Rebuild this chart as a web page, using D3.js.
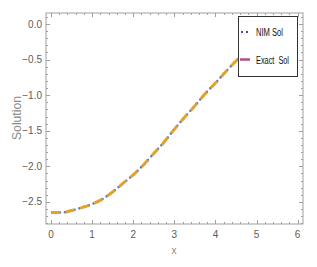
<!DOCTYPE html>
<html>
<head>
<meta charset="utf-8">
<script src="https://cdn.jsdelivr.net/npm/d3@7"></script>
<style>
  body { margin: 0; background: #fff; }
  text { font-family: "Liberation Sans", Arial, sans-serif; }
</style>
</head>
<body>
<div id="chart"></div>
<script>
(() => {
  // values
  var xs = [0, 0.25, 0.5, 0.75, 1, 1.25, 1.5, 1.75, 2, 2.25, 2.5, 2.75, 3, 3.25, 3.5, 3.75, 4, 4.25, 4.5, 4.75];
  var nimSol = [-2.65, -2.65, -2.62, -2.58, -2.53, -2.46, -2.36, -2.24, -2.12, -1.98, -1.82, -1.66, -1.48, -1.31, -1.15, -0.98, -0.83, -0.67, -0.52, -0.38];
  var exactSol = [-2.65, -2.65, -2.62, -2.58, -2.53, -2.46, -2.36, -2.24, -2.12, -1.98, -1.82, -1.66, -1.48, -1.31, -1.15, -0.98, -0.83, -0.67, -0.52, -0.38];
  var xTicks = [0, 1, 2, 3, 4, 5, 6];
  var yTicks = [0, -0.5, -1, -1.5, -2, -2.5];
  var legendNames = ["NIM Sol", "Exact  Sol"];

  var W = 317, H = 267;
  var left = 46, right = 303, top = 13, bottom = 224;

  var svg = d3.select('#chart').append('svg')
    .attr('width', W).attr('height', H);

  var x = d3.scaleLinear().domain([-0.12, 6.13]).range([left, right]);
  var y = d3.scaleLinear().domain([-2.81, 0.155]).range([bottom, top]);

  var frameColor = '#a0a0a0';
  var labelColor = '#5c5c5c';

  // frame
  svg.append('rect')
    .attr('x', left).attr('y', top)
    .attr('width', right - left).attr('height', bottom - top)
    .attr('fill', 'none').attr('stroke', frameColor).attr('stroke-width', 1);

  // ticks (inward) on all four sides
  var xMinor = d3.range(0, 6.1, 0.2);
  var yMinor = d3.range(-2.8, 0.11, 0.1);
  var g = svg.append('g').attr('stroke', frameColor).attr('stroke-width', 1);
  xMinor.forEach(v => {
    var major = Math.abs(v - Math.round(v)) < 1e-6;
    var len = major ? 4 : 2;
    var px = Math.round(x(v)) + 0.5;
    g.append('line').attr('x1', px).attr('x2', px).attr('y1', bottom).attr('y2', bottom - len);
    g.append('line').attr('x1', px).attr('x2', px).attr('y1', top).attr('y2', top + len);
  });
  yMinor.forEach(v => {
    var major = Math.abs(v * 2 - Math.round(v * 2)) < 1e-6;
    var len = major ? 4 : 2;
    var py = Math.round(y(v)) + 0.5;
    g.append('line').attr('y1', py).attr('y2', py).attr('x1', left).attr('x2', left + len);
    g.append('line').attr('y1', py).attr('y2', py).attr('x1', right).attr('x2', right - len);
  });

  // tick labels
  svg.selectAll('.xl').data(xTicks).enter().append('text')
    .attr('x', d => x(d)).attr('y', 238)
    .attr('text-anchor', 'middle')
    .attr('font-size', 10).attr('fill', labelColor)
    .text(d => d);

  svg.selectAll('.yl').data(yTicks).enter().append('text')
    .attr('x', 42).attr('y', d => y(d) + 3.5)
    .attr('text-anchor', 'end')
    .attr('font-size', 10).attr('fill', labelColor)
    .text(d => d3.format('.1f')(d).replace('-', '\u2212'));

  // axis titles
  svg.append('text')
    .attr('x', 174).attr('y', 254)
    .attr('text-anchor', 'middle')
    .attr('font-size', 10).attr('fill', '#888')
    .text('x');

  svg.append('text')
    .attr('transform', 'translate(21,118) rotate(-90)')
    .attr('text-anchor', 'middle')
    .attr('font-size', 12).attr('fill', '#888')
    .attr('textLength', 44).attr('lengthAdjust', 'spacingAndGlyphs')
    .text('Solution');

  // curves
  var line = d3.line().x(d => x(d[0])).y(d => y(d[1])).curve(d3.curveMonotoneX);
  var plot = svg.append('g');

  plot.append('path')
    .datum(xs.map((v, i) => [v, nimSol[i]]))
    .attr('d', line)
    .attr('fill', 'none')
    .attr('stroke', '#5a7fbf')
    .attr('stroke-width', 2.6)
    .attr('stroke-linecap', 'round')
    .attr('stroke-dasharray', '0,5')
    .attr('stroke-dashoffset', 1);

  plot.append('path')
    .datum(xs.map((v, i) => [v, exactSol[i]]))
    .attr('d', line)
    .attr('fill', 'none')
    .attr('stroke', '#e4a12b')
    .attr('stroke-width', 3)
    .attr('stroke-dasharray', '9,6');

  // legend
  var lg = svg.append('g');
  lg.append('rect')
    .attr('x', 238.5).attr('y', 16.5)
    .attr('width', 59).attr('height', 60)
    .attr('fill', '#fff').attr('stroke', '#333').attr('stroke-width', 1);

  lg.append('line')
    .attr('x1', 241).attr('x2', 249).attr('y1', 32).attr('y2', 32)
    .attr('stroke', '#4a4aa8').attr('stroke-width', 2)
    .attr('stroke-dasharray', '2,3');
  lg.append('line')
    .attr('x1', 240).attr('x2', 250).attr('y1', 59.5).attr('y2', 59.5)
    .attr('stroke', '#b0508a').attr('stroke-width', 2.5);

  lg.selectAll('.lt').data(legendNames).enter().append('text')
    .attr('x', 256).attr('y', (d, i) => i === 0 ? 36 : 63.5)
    .attr('font-size', 10).attr('fill', '#111')
    .attr('textLength', (d, i) => i === 0 ? 27 : 33)
    .attr('lengthAdjust', 'spacingAndGlyphs')
    .style('white-space', 'pre')
    .text(d => d);
})();
</script>
</body>
</html>
